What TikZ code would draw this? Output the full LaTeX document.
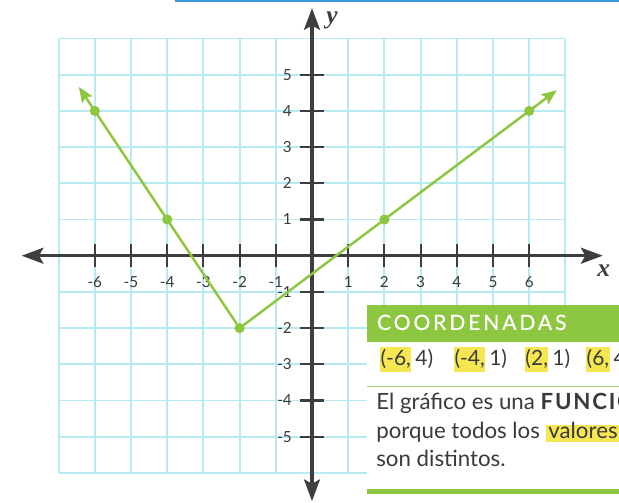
\documentclass[tikz,border=0pt]{standalone}
\usepackage{fontspec}
\setmainfont{Lato}
\newfontfamily\axisfont{Liberation Serif}
\newfontfamily\headfont[LetterSpace=14,FakeBold=0.6]{Lato}
\newfontfamily\boldspaced[LetterSpace=8]{Lato Bold}
\usetikzlibrary{arrows.meta,calc}

\definecolor{gridc}{RGB}{182,234,240}
\definecolor{axisc}{RGB}{62,62,62}
\definecolor{greenc}{RGB}{141,198,63}
\definecolor{thinc}{RGB}{170,214,120}
\definecolor{hlc}{RGB}{246,230,82}
\definecolor{bluec}{RGB}{58,150,220}
\definecolor{txtc}{RGB}{58,58,58}

\begin{document}
\begin{tikzpicture}[
  gridline/.style={draw=gridc, line width=1.5pt},
  axisline/.style={draw=axisc, line width=2.4pt,
    {Stealth[length=0.6cm,width=0.44cm,inset=0.12cm]}-{Stealth[length=0.6cm,width=0.44cm,inset=0.12cm]}},
  tickmark/.style={draw=axisc, line width=1.6pt},
  ticklab/.style={font=\fontsize{12}{12}\selectfont, text=txtc, inner sep=0pt},
  axislab/.style={font=\axisfont\bfseries\itshape\fontsize{20}{20}\selectfont, text=axisc, inner sep=0pt},
  graphline/.style={draw=greenc, line width=1.9pt},
  ray/.style={graphline, -{Stealth[length=0.42cm,width=0.34cm,inset=0.08cm]}},
  dot/.style={circle, fill=greenc, inner sep=0pt, minimum size=0.28cm},
  coordtxt/.style={font=\fontsize{16.5}{16.5}\selectfont, text=txtc, inner sep=0pt},
  hl/.style={coordtxt, fill=hlc, inner xsep=0.3pt, inner ysep=0pt, text height=14.4pt, text depth=5.3pt},
  bodytxt/.style={font=\fontsize{17.5}{17.5}\selectfont, text=txtc, inner sep=0pt, anchor=base west},
  headtxt/.style={font=\headfont\fontsize{16.5}{16.5}\selectfont, text=white, inner sep=0pt, anchor=base west}
]
\clip (-8.619,-6.804) rectangle (8.481,7.064);
\useasboundingbox (-8.619,-6.804) rectangle (8.481,7.064);
\fill[white] (-8.619,-6.804) rectangle (8.481,7.064);

% top blue rule
\fill[bluec] (-3.78,7.064) rectangle (8.481,7.0);

% grid
\draw[gridline] (-7,-6) grid (7,6);

% axes
\coordinate (xl) at (-8.02,0);
\coordinate (xr) at (8.03,0);
\coordinate (yb) at (0,-6.78);
\coordinate (yt) at (0,6.84);
\draw[axisline] (xl) -- (xr);
\draw[axisline] (yb) -- (yt);

% ticks and labels
\foreach \i in {-6,...,-1,1,2,...,6}{
  \draw[tickmark] (\i,-0.32) -- (\i,0.32);
  \node[ticklab] (xt\i) at (\i,-0.72) {\i};
}
\foreach \j in {-5,...,-1,1,2,...,5}{
  \draw[tickmark] (-0.33,\j) -- (0.33,\j);
  \node[ticklab, anchor=east] (yt\j) at (-0.55,\j) {\j};
}
\node[axislab] (xlab) at (8.06,-0.40) {x};
\node[axislab] (ylab) at (0.55,6.50) {y};

% graph
\coordinate (P1) at (-6,4);
\coordinate (P2) at (-4,1);
\coordinate (P3) at (-2,-2);
\coordinate (P4) at (2,1);
\coordinate (P5) at (6,4);
\coordinate (A1) at (-6.44,4.66);
\coordinate (A2) at (6.76,4.57);
\draw[graphline] (P1) -- (P2) -- (P3) -- (P4) -- (P5);
\draw[ray] (P1) -- (A1);
\draw[ray] (P5) -- (A2);
\foreach \k in {1,...,5}{ \node[dot] (D\k) at (P\k) {}; }

% text panel
\fill[white] (1.52,-1.36) rectangle (8.6,-6.9);
\fill[greenc] (1.52,-1.36) rectangle (8.6,-2.376);
\node[headtxt] (head) at (1.79,-2.05) {COORDENADAS};

\node[hl, anchor=base west] (c1a) at (1.878,-3.02) {(-6,};
\node[coordtxt, anchor=base west] (c1b) at (c1a.base east) {\,4)};
\node[hl, anchor=base west] (c2a) at (3.92,-3.02) {(-4,};
\node[coordtxt, anchor=base west] (c2b) at (c2a.base east) {\,1)};
\node[hl, anchor=base west] (c3a) at (5.88,-3.02) {(2,};
\node[coordtxt, anchor=base west] (c3b) at (c3a.base east) {\,1)};
\node[hl, anchor=base west] (c4a) at (7.57,-3.02) {(6,};
\node[coordtxt, anchor=base west] (c4b) at (c4a.base east) {\,4)};

\draw[thinc, line width=0.8pt] (1.52,-3.60) -- (8.6,-3.60);

\node[bodytxt] (l1) at (1.77,-4.235) {El gráfico es una {\boldspaced FUNCIÓN}};
\node[bodytxt] (l2a) at (1.77,-5.036) {porque todos los};
\fill[hlc] ($(l2a.base east)+(0.17,-0.10)$) rectangle ($(l2a.base east)+(8,0.367)$);
\node[bodytxt] (l2b) at ($(l2a.base east)+(0.22,0)$) {valores};
\node[bodytxt] (l3) at (1.77,-5.83) {son distintos.};

\fill[greenc] (1.52,-6.45) rectangle (8.6,-6.59);
\end{tikzpicture}
\end{document}
